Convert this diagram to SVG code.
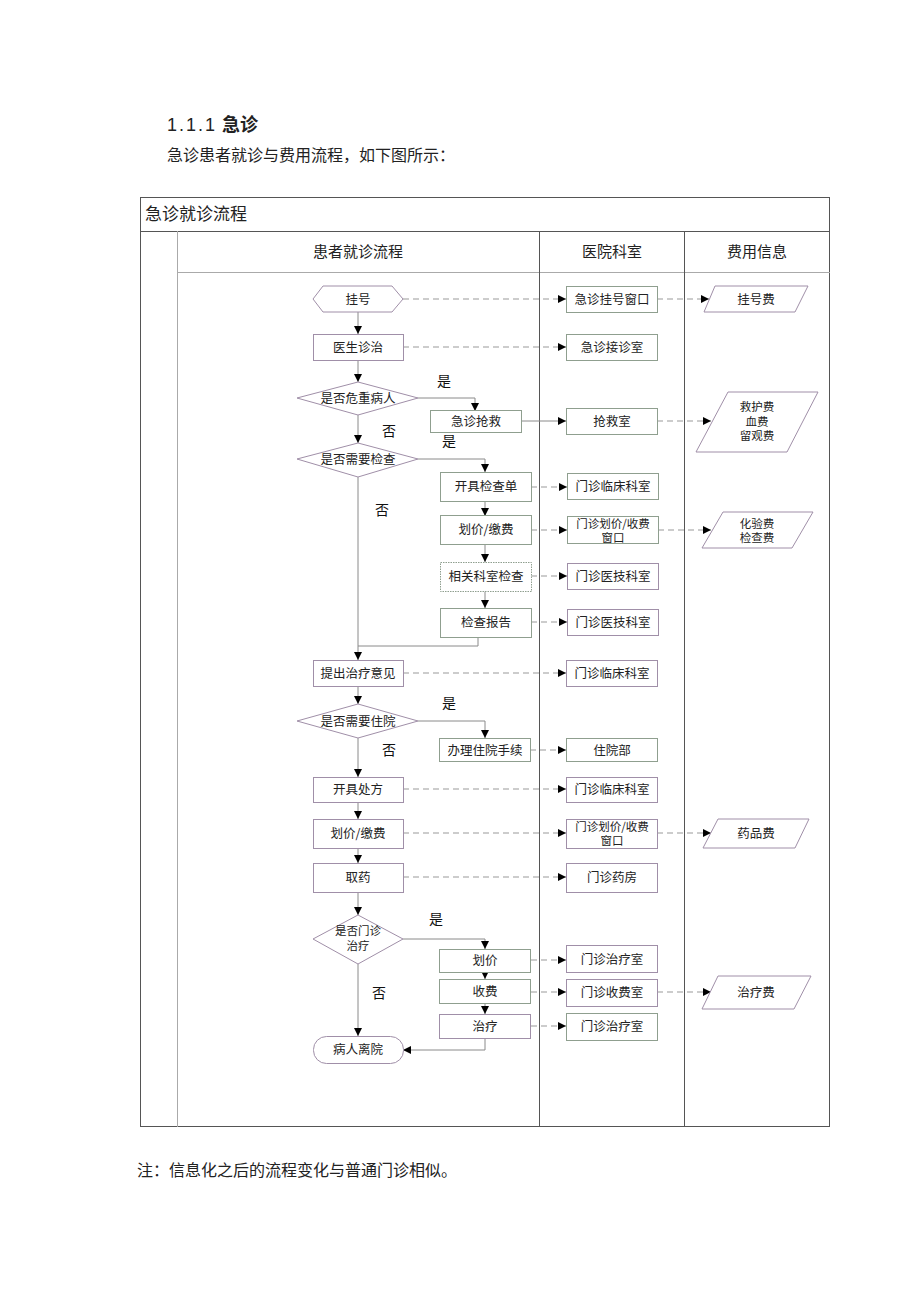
<svg xmlns="http://www.w3.org/2000/svg" width="920" height="1302" viewBox="0 0 920 1302">
<style>
text{font-family:"Noto Sans CJK SC","Liberation Sans",sans-serif;fill:#222;}
.n{font-size:12.5px;text-anchor:middle;}
.n2{font-size:11.5px;text-anchor:middle;}
.lab{font-size:14px;text-anchor:middle;fill:#111;}
.hd{font-size:15px;text-anchor:middle;}
.p{fill:#fff;stroke:#a08fa8;stroke-width:1;}
.g{fill:#fff;stroke:#8f9f8f;stroke-width:1;}
.lane{stroke:#555;stroke-width:1;fill:none;}
.lt{stroke:#aaa;stroke-width:1;fill:none;}
.s{stroke:#8a8a8a;stroke-width:1;fill:none;marker-end:url(#ah);}
.d{stroke:#999;stroke-width:1;fill:none;stroke-dasharray:6,4;marker-end:url(#ah);}
</style>
<defs>
<marker id="ah" markerWidth="8" markerHeight="8" refX="8" refY="4" orient="auto" markerUnits="userSpaceOnUse"><path d="M0,0 L8,4 L0,8 z" fill="#000"/></marker>
</defs>
<rect width="920" height="1302" fill="#fff"/>
<g id="heading">
<text x="167" y="131" style="font-size:18px;font-family:'Liberation Sans',sans-serif;letter-spacing:2px">1.1.1</text>
<text x="222" y="131" style="font-size:18px;font-weight:bold">急诊</text>
<text x="167" y="161" style="font-size:16px">急诊患者就诊与费用流程，如下图所示：</text>
<text x="137" y="1176" style="font-size:16px">注：信息化之后的流程变化与普通门诊相似。</text>
</g>
<g id="frame">
<rect x="140.5" y="197.5" width="689" height="929" class="lane"/>
<line x1="140" y1="231.5" x2="830" y2="231.5" class="lane"/>
<line x1="177.5" y1="231" x2="177.5" y2="1127" class="lt"/>
<line x1="177" y1="272.5" x2="830" y2="272.5" class="lt"/>
<line x1="539.5" y1="231" x2="539.5" y2="1127" class="lane"/>
<line x1="684.5" y1="231" x2="684.5" y2="1127" class="lane"/>
<text x="145" y="220" style="font-size:17px">急诊就诊流程</text>
<text x="358" y="257" class="hd">患者就诊流程</text>
<text x="612" y="257" class="hd">医院科室</text>
<text x="757" y="257" class="hd">费用信息</text>
</g>
<g id="connectors">
<path class="s" d="M358,312 V334"/>
<path class="s" d="M358,360 V382"/>
<path class="s" d="M418,398 H475 V411"/>
<path class="s" d="M358,415 V443"/>
<path class="s" d="M521,421 H566"/>
<path class="s" d="M418,459 H485 V472"/>
<path class="s" d="M485,501 V516"/>
<path class="s" d="M485,544 V562"/>
<path class="s" d="M485,591 V608"/>
<path class="lt" d="M478,637 V646 H358" style="stroke:#8a8a8a"/>
<path class="s" d="M358,477 V660"/>
<path class="s" d="M358,686 V704"/>
<path class="s" d="M418,721 H485 V738"/>
<path class="s" d="M358,738 V777"/>
<path class="s" d="M358,802 V819"/>
<path class="s" d="M358,848 V863"/>
<path class="s" d="M358,892 V915"/>
<path class="s" d="M403,939 H485 V949"/>
<path class="s" d="M485,972 V979"/>
<path class="s" d="M485,1003 V1014"/>
<path class="s" d="M358,964 V1036"/>
<path class="s" d="M485,1038 V1050 H403"/>
<path class="d" d="M403,299 H566"/>
<path class="d" d="M657,299 H709"/>
<path class="d" d="M403,347 H566"/>
<path class="d" d="M657,421 H711"/>
<path class="d" d="M531,487 H567"/>
<path class="d" d="M531,530 H567"/>
<path class="d" d="M658,530 H711"/>
<path class="d" d="M531,576 H567"/>
<path class="d" d="M531,622 H567"/>
<path class="d" d="M403,673 H566"/>
<path class="d" d="M530,750 H566"/>
<path class="d" d="M403,789 H566"/>
<path class="d" d="M403,833 H566"/>
<path class="d" d="M657,833 H711"/>
<path class="d" d="M403,877 H566"/>
<path class="d" d="M531,960 H566"/>
<path class="d" d="M531,992 H566"/>
<path class="d" d="M657,992 H711"/>
<path class="d" d="M531,1026 H566"/>
</g>
<g id="yesno">
<text x="444" y="386" class="lab">是</text>
<text x="389" y="436" class="lab">否</text>
<text x="449" y="446" class="lab">是</text>
<text x="382" y="515" class="lab">否</text>
<text x="449" y="708" class="lab">是</text>
<text x="389" y="755" class="lab">否</text>
<text x="436" y="924" class="lab">是</text>
<text x="379" y="998" class="lab">否</text>
</g>
<g id="n-guahao"><polygon class="p" points="313,299 323,286 392,286 403,299 392,312 323,312"/><text x="358" y="304" class="n">挂号</text></g>
<g id="n-yishengzhenzhi"><rect class="p" x="313.5" y="334.5" width="90" height="26"/><text x="358" y="352" class="n">医生诊治</text></g>
<g id="n-weizhong"><polygon class="p" points="297,398 358,382 418,398 358,415"/><text x="358" y="403" class="n">是否危重病人</text></g>
<g id="n-qiangjiu"><rect class="g" x="430.5" y="410.5" width="91" height="22"/><text x="476" y="426" class="n">急诊抢救</text></g>
<g id="n-jiancha"><polygon class="p" points="297,459 358,443 418,459 358,477"/><text x="358" y="464" class="n">是否需要检查</text></g>
<g id="n-kaiju"><rect class="g" x="440.5" y="472.5" width="91" height="29"/><text x="486" y="491" class="n">开具检查单</text></g>
<g id="n-huajia1"><rect class="g" x="440.5" y="515.5" width="91" height="29"/><text x="486" y="534" class="n">划价/缴费</text></g>
<g id="n-xiangguan"><rect class="g" x="440.5" y="562.5" width="91" height="29" style="stroke-dasharray:1.5,1"/><text x="486" y="581" class="n">相关科室检查</text></g>
<g id="n-baogao"><rect class="g" x="440.5" y="608.5" width="91" height="29"/><text x="486" y="627" class="n">检查报告</text></g>
<g id="n-zhiliaoyijian"><rect class="p" x="313.5" y="660.5" width="90" height="26"/><text x="358" y="678" class="n">提出治疗意见</text></g>
<g id="n-zhuyuan"><polygon class="p" points="297,721 358,704 418,721 358,738"/><text x="358" y="726" class="n">是否需要住院</text></g>
<g id="n-banli"><rect class="g" x="439.5" y="738.5" width="91" height="23"/><text x="485" y="755" class="n">办理住院手续</text></g>
<g id="n-chufang"><rect class="p" x="313.5" y="777.5" width="90" height="25"/><text x="358" y="794" class="n">开具处方</text></g>
<g id="n-huajia2"><rect class="p" x="313.5" y="819.5" width="90" height="29"/><text x="358" y="838" class="n">划价/缴费</text></g>
<g id="n-quyao"><rect class="p" x="313.5" y="863.5" width="90" height="29"/><text x="358" y="882" class="n">取药</text></g>
<g id="n-menzhen"><polygon class="p" points="313,939 358,915 403,939 358,964"/><text x="358" y="935" class="n2">是否门诊</text><text x="358" y="950" class="n2">治疗</text></g>
<g id="n-huajia3"><rect class="g" x="439.5" y="949.5" width="91" height="23"/><text x="485" y="965" class="n">划价</text></g>
<g id="n-shoufei"><rect class="g" x="439.5" y="979.5" width="91" height="24"/><text x="485" y="996" class="n">收费</text></g>
<g id="n-zhiliao"><rect class="p" x="439.5" y="1014.5" width="91" height="24"/><text x="485" y="1031" class="n">治疗</text></g>
<g id="n-liyuan"><rect class="p" x="313.5" y="1036.5" width="90" height="27" rx="13" ry="13"/><text x="358" y="1054" class="n">病人离院</text></g>
<g id="d-guahaochuangkou"><rect class="g" x="566.5" y="286.5" width="91" height="26"/><text x="612" y="304" class="n">急诊挂号窗口</text></g>
<g id="d-jiezhenshi"><rect class="g" x="566.5" y="334.5" width="91" height="26"/><text x="612" y="352" class="n">急诊接诊室</text></g>
<g id="d-qiangjiushi"><rect class="g" x="566.5" y="408.5" width="91" height="26"/><text x="612" y="426" class="n">抢救室</text></g>
<g id="d-linchuang1"><rect class="g" x="567.5" y="473.5" width="91" height="26"/><text x="613" y="491" class="n">门诊临床科室</text></g>
<g id="d-shoufeichuangkou1"><rect class="g" x="567.5" y="516.5" width="91" height="27"/><text x="613" y="527.5" class="n2">门诊划价/收费</text><text x="613" y="541.5" class="n2">窗口</text></g>
<g id="d-yiji1"><rect class="p" x="567.5" y="563.5" width="91" height="26"/><text x="613" y="581" class="n">门诊医技科室</text></g>
<g id="d-yiji2"><rect class="p" x="567.5" y="609.5" width="91" height="26"/><text x="613" y="627" class="n">门诊医技科室</text></g>
<g id="d-linchuang2"><rect class="p" x="566.5" y="660.5" width="91" height="26"/><text x="612" y="678" class="n">门诊临床科室</text></g>
<g id="d-zhuyuanbu"><rect class="g" x="566.5" y="738.5" width="91" height="23"/><text x="612" y="755" class="n">住院部</text></g>
<g id="d-linchuang3"><rect class="p" x="566.5" y="777.5" width="91" height="25"/><text x="612" y="794" class="n">门诊临床科室</text></g>
<g id="d-shoufeichuangkou2"><rect class="p" x="566.5" y="819.5" width="91" height="29"/><text x="612" y="830.5" class="n2">门诊划价/收费</text><text x="612" y="845" class="n2">窗口</text></g>
<g id="d-yaofang"><rect class="p" x="566.5" y="863.5" width="91" height="29"/><text x="612" y="882" class="n">门诊药房</text></g>
<g id="d-zhiliaoshi1"><rect class="p" x="566.5" y="945.5" width="91" height="27"/><text x="612" y="964" class="n">门诊治疗室</text></g>
<g id="d-shoufeishi"><rect class="p" x="566.5" y="979.5" width="91" height="27"/><text x="612" y="997" class="n">门诊收费室</text></g>
<g id="d-zhiliaoshi2"><rect class="g" x="566.5" y="1013.5" width="91" height="27"/><text x="612" y="1031" class="n">门诊治疗室</text></g>
<g id="f-guahaofei"><polygon class="p" points="715,286 808,286 795,312 704,312"/><text x="756" y="304" class="n">挂号费</text></g>
<g id="f-jiuhufei"><polygon class="p" points="728,392 818,392 787,452 696,452"/><text x="757" y="411" class="n2">救护费</text><text x="757" y="425.5" class="n2">血费</text><text x="757" y="440" class="n2">留观费</text></g>
<g id="f-huayanfei"><polygon class="p" points="723,512 813,512 792,548 702,548"/><text x="757" y="527.5" class="n2">化验费</text><text x="757" y="542" class="n2">检查费</text></g>
<g id="f-yaopinfei"><polygon class="p" points="718,819 809,819 795,848 703,848"/><text x="756" y="838" class="n">药品费</text></g>
<g id="f-zhiliaofei"><polygon class="p" points="718,976 811,976 794,1009 702,1009"/><text x="756" y="997" class="n">治疗费</text></g>
</svg>
